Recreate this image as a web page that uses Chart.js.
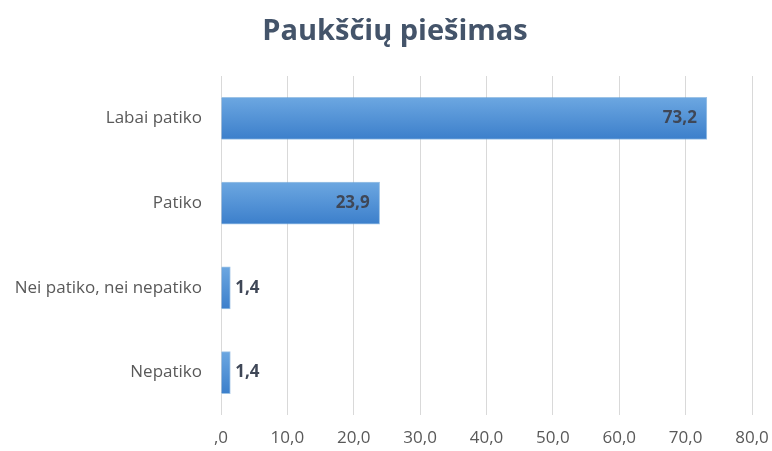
<!DOCTYPE html>
<html>
<head>
<meta charset="utf-8">
<script src="https://cdn.jsdelivr.net/npm/chart.js@4"></script>
<style>
  html, body { margin: 0; padding: 0; background: #fff; }
  #wrap { width: 772px; height: 451px; }
</style>
</head>
<body>
<div id="wrap"><canvas id="chart_birds"></canvas></div>
<script>
const categories = ['Labai patiko', 'Patiko', 'Nei patiko, nei nepatiko', 'Nepatiko'];
const values = [73.2, 23.9, 1.4, 1.4];
const tickValues = [0, 10, 20, 30, 40, 50, 60, 70, 80];
const chartTitle = 'Paukščių piešimas';

const font_family = '"Open Sans", "Noto Sans", sans-serif';

function formatNum(v) {
    // 0 rodomas kaip ",0" kaip originale
    if (v === 0) return ',0';
    return v.toFixed(1).replace('.', ',');
}

function barGradient(context) {
    const chart = context.chart;
    const area = chart.chartArea;
    if (!area) return '#5b9bd5';
    const y = chart.scales.y.getPixelForValue(context.dataIndex);
    const g = chart.ctx.createLinearGradient(0, y - 21, 0, y + 21);
    g.addColorStop(0, '#6ca7e1');
    g.addColorStop(1, '#3c7fcb');
    return g;
}

const valueLabels = {
    id: 'valueLabels',
    afterDatasetsDraw(chart) {
        const ctx = chart.ctx;
        const meta = chart.getDatasetMeta(0);
        ctx.save();
        ctx.font = 'bold 17px ' + font_family;
        ctx.fillStyle = '#3f4757';
        ctx.textBaseline = 'middle';
        meta.data.forEach(function (bar, i) {
            const text = formatNum(values[i]);
            const w = bar.x - bar.base;
            if (w > 60) {
                ctx.textAlign = 'right';
                ctx.fillText(text, bar.x - 10, bar.y);
            } else {
                ctx.textAlign = 'left';
                ctx.fillText(text, bar.x + 5, bar.y);
            }
        });
        ctx.restore();
    }
};

// pavadinimas piešiamas atskirai, nes originale jis ne visai per vidurį
const titleText = {
    id: 'titleText',
    afterDraw(chart) {
        const ctx = chart.ctx;
        ctx.save();
        ctx.font = 'bold 29px ' + font_family;
        ctx.fillStyle = '#44546a';
        ctx.textAlign = 'center';
        ctx.textBaseline = 'middle';
        ctx.fillText(chartTitle, 395, 32);
        ctx.restore();
    }
};

new Chart(document.getElementById('chart_birds'), {
    type: 'bar',
    data: {
        labels: categories,
        datasets: [{
            data: values,
            backgroundColor: barGradient,
            borderColor: 'rgba(91,155,213,0.6)',
            borderWidth: 1,
            barThickness: 42
        }]
    },
    options: {
        indexAxis: 'y',
        responsive: true,
        maintainAspectRatio: false,
        animation: false,
        layout: { padding: { left: 0, right: 20, top: 76, bottom: 0 } },
        scales: {
            x: {
                min: 0,
                max: 80,
                afterBuildTicks: function (scale) {
                    scale.ticks = tickValues.map(v => ({ value: v }));
                },
                afterFit: function (scale) {
                    scale.height = 36;
                    scale.paddingLeft = 0;
                    scale.paddingRight = 0;
                },
                grid: { color: '#d9d9d9', lineWidth: 1, drawTicks: false },
                border: { display: false },
                ticks: {
                    padding: 13,
                    color: '#595959',
                    font: { size: 17, family: font_family },
                    callback: function (v) { return formatNum(v); }
                }
            },
            y: {
                afterFit: function (scale) { scale.width = 221; },
                grid: { display: false, drawTicks: false },
                border: { display: false },
                ticks: {
                    padding: 19,
                    color: '#595959',
                    font: { size: 17, family: font_family }
                }
            }
        },
        plugins: {
            legend: { display: false },
            tooltip: { enabled: false },
            title: { display: false }
        }
    },
    plugins: [valueLabels, titleText]
});
</script>
</body>
</html>
